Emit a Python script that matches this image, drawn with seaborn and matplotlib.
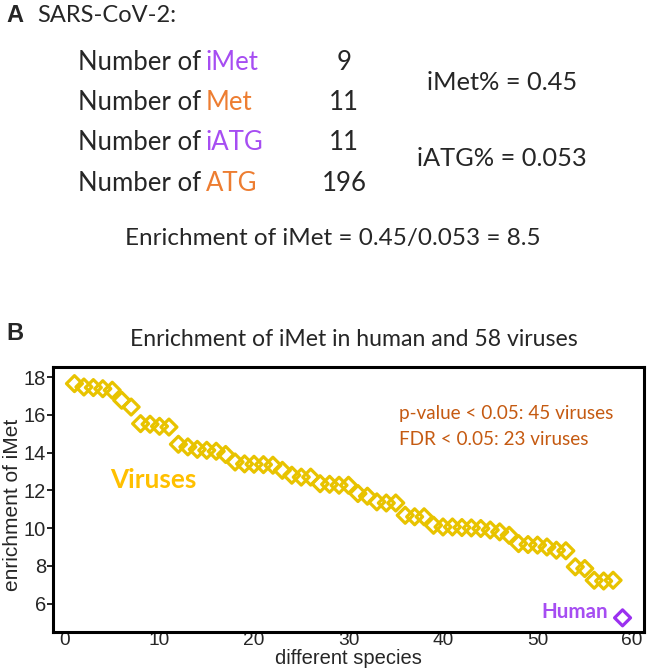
import numpy as np
import pandas as pd
import seaborn as sns
import matplotlib.pyplot as plt

# panel A numbers
counts_labels = ['iMet', 'Met', 'iATG', 'ATG']
counts_values = [9, 11, 11, 196]
imet_pct = 0.45
iatg_pct = 0.053
enrichment_sars = 8.5

# panel B: enrichment of iMet, 58 viruses (sorted) then human
virus_enrichment = [17.65, 17.47, 17.44, 17.38, 17.3, 16.77, 16.41, 15.53, 15.5, 15.39,
                    15.35, 14.44, 14.3, 14.17, 14.12, 14.07, 13.9, 13.5, 13.4, 13.38,
                    13.36, 13.33, 13.06, 12.8, 12.7, 12.7, 12.35, 12.32, 12.27, 12.27,
                    11.83, 11.69, 11.39, 11.33, 11.33, 10.68, 10.6, 10.6, 10.15, 10.06,
                    10.06, 10.03, 10.01, 9.98, 9.9, 9.8, 9.62, 9.18, 9.13, 9.1,
                    9.0, 8.83, 8.8, 7.95, 7.86, 7.24, 7.2, 7.24]
human_enrichment = [5.25]
x_ticks = [0, 10, 20, 30, 40, 50, 60]
y_ticks = [6, 8, 10, 12, 14, 16, 18]

PURPLE = '#a64df2'
ORANGE = '#ed7d31'
GOLD = '#e8c300'
DARKOR = '#c55a11'

df = pd.DataFrame({
    'species': np.arange(1, len(virus_enrichment) + len(human_enrichment) + 1),
    'enrichment': virus_enrichment + human_enrichment,
    'group': ['virus'] * len(virus_enrichment) + ['human'] * len(human_enrichment),
})

sns.set_style('white')
plt.rcParams['font.family'] = ['Lato', 'DejaVu Sans']

W, H = 649, 670
fig = plt.figure(figsize=(W / 100, H / 100), dpi=100)

def txt(x, y, s, **kw):
    # x, y in pixels from the top-left corner
    fig.text(x / W, 1 - y / H, s, va='center', **kw)

# ---- panel A
txt(6, 16, 'A', fontsize=17, fontweight='bold', family='Liberation Sans')
txt(37, 15, 'SARS-CoV-2:', fontsize=17)
rows_y = [63, 103, 143, 184]
for lab, val, yy in zip(counts_labels, counts_values, rows_y):
    col = PURPLE if lab.startswith('i') else ORANGE
    txt(201, yy, 'Number of', fontsize=18.5, ha='right')
    txt(206, yy, lab, fontsize=18.5, ha='left', color=col)
    txt(344, yy, str(val), fontsize=18.5, ha='center')
txt(502, 82, f'iMet% = {imet_pct}', fontsize=18.3, ha='center')
txt(502, 159, f'iATG% = {iatg_pct}', fontsize=18.3, ha='center')
txt(333, 238, f'Enrichment of iMet = {imet_pct}/{iatg_pct} = {enrichment_sars}',
    fontsize=17.5, ha='center')

# ---- panel B
txt(6, 333, 'B', fontsize=17, fontweight='bold', family='Liberation Sans')
txt(354, 340, 'Enrichment of iMet in human and 58 viruses', fontsize=16.6, ha='center')

ax = fig.add_axes([53 / W, 1 - 632 / H, (644 - 53) / W, (632 - 367) / H])
for grp, col in [('virus', GOLD), ('human', '#9b30f0')]:
    sub = df[df['group'] == grp]
    sns.scatterplot(data=sub, x='species', y='enrichment', ax=ax, marker='D', s=66,
                    facecolor='none', edgecolor=col, linewidth=2.3, legend=False)

ax.set_xlim(-1.27, 61.27)
ax.set_ylim(4.5, 18.53)
ax.set_xticks(x_ticks)
ax.set_yticks(y_ticks)
for lab in ax.get_xticklabels():
    lab.set_family('Liberation Sans')
    lab.set_fontsize(13.8)
for lab in ax.get_yticklabels():
    lab.set_family('Liberation Sans')
    lab.set_fontsize(14.5)
ax.tick_params(axis='y', length=4, width=1.2, color='black', pad=1, direction='out')
ax.tick_params(axis='x', length=1, width=1.2, color='black', pad=-1, direction='out')
ax.xaxis.set_ticks_position('bottom')
ax.yaxis.set_ticks_position('left')
ax.set_xlabel('different species', family='Liberation Sans', fontsize=14.5, va='center')
ax.set_ylabel('enrichment of iMet', family='Liberation Sans', fontsize=15, va='center')
ax.xaxis.set_label_coords(0.5, -0.1)
ax.yaxis.set_label_coords(-0.069, 0.48)
for sp in ax.spines.values():
    sp.set_linewidth(2.2)
    sp.set_color('black')

ax.text(0.585, 0.823, 'p-value < 0.05: 45 viruses', transform=ax.transAxes, color=DARKOR,
        fontsize=13.6, va='center')
ax.text(0.585, 0.725, 'FDR < 0.05: 23 viruses', transform=ax.transAxes, color=DARKOR,
        fontsize=13.6, va='center')
ax.text(0.0965, 0.574, 'Viruses', transform=ax.transAxes, color='#ffc000',
        fontsize=18.8, fontweight='bold', va='center')
ax.text(0.827, 0.077, 'Human', transform=ax.transAxes, color=PURPLE,
        fontsize=14.8, fontweight='bold', va='center')

plt.savefig('out.png', dpi=100)
